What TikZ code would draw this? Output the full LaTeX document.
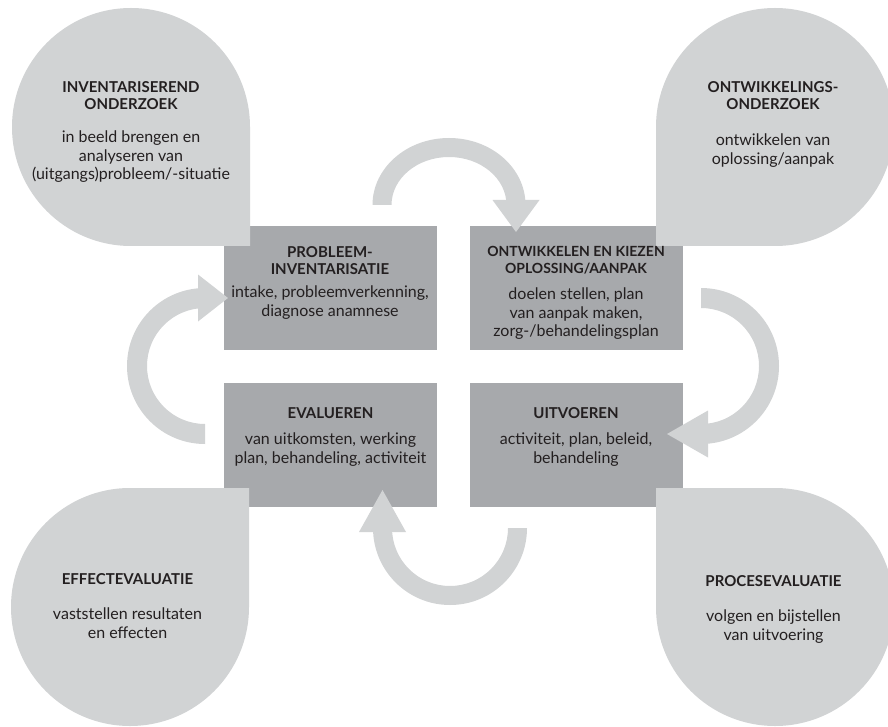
\documentclass[tikz,border=0pt]{standalone}
\usepackage{fontspec}
\setmainfont{Lato}
\usetikzlibrary{calc}
\definecolor{blobgray}{HTML}{D1D3D4}
\definecolor{boxgray}{HTML}{A7A9AC}
\definecolor{ink}{HTML}{231F20}
\begin{document}
\begin{tikzpicture}[x=1pt,y=1pt,yscale=-1,
  blobfill/.style={fill=blobgray},
  arrowfill/.style={fill=blobgray},
  boxnode/.style={rectangle, fill=boxgray, inner sep=0pt, minimum width=213pt, minimum height=124pt},
  headtxt/.style={font=\fontsize{15}{17}\selectfont\bfseries, text=ink, align=center, anchor=north, inner sep=0pt},
  bodytxt/.style={font=\fontsize{16}{18.3}\selectfont, text=ink, align=center, anchor=north, inner sep=0pt}]
\useasboundingbox (0,0) rectangle (888,727);
\clip (0,0) rectangle (888,727);
\fill[white] (0,0) rectangle (888,727);

% boxes
\node[boxnode] (b1) at (330,288) {};
\node[boxnode] (b2) at (576,288) {};
\node[boxnode] (b3) at (330.5,445) {};
\node[boxnode] (b4) at (576,445) {};

% arrows
\coordinate (ctop) at (449,205);
\fill[arrowfill] ($(ctop)+(-76.5,0)$) arc[start angle=180,end angle=360,x radius=76.5pt,y radius=67pt]
  -- ($(ctop)+(57.5,0)$) arc[start angle=360,end angle=180,x radius=57.5pt,y radius=48pt] -- cycle;
\fill[arrowfill] (492.5,200) -- (539.5,200) -- (516,232) -- cycle;

\coordinate (cright) at (701,366);
\fill[arrowfill] ($(cright)+(0,-78)$) arc[start angle=-90,end angle=90,radius=78pt]
  -- ($(cright)+(0,58)$) arc[start angle=90,end angle=-90,radius=58pt] -- cycle;
\fill[arrowfill] (708,410.5) -- (708,457.5) -- (667,434) -- cycle;

\coordinate (cbot) at (450,528);
\fill[arrowfill] ($(cbot)+(77,0)$) arc[start angle=0,end angle=180,radius=77pt]
  -- ($(cbot)+(-58,0)$) arc[start angle=180,end angle=0,radius=58pt] -- cycle;
\fill[arrowfill] (359,532) -- (406,532) -- (382.5,490) -- cycle;

\coordinate (cleft) at (205,366);
\fill[arrowfill] ($(cleft)+(0,78)$) arc[start angle=90,end angle=270,radius=78pt]
  -- ($(cleft)+(0,-58)$) arc[start angle=270,end angle=90,radius=58pt] -- cycle;
\fill[arrowfill] (198,274.5) -- (198,321.5) -- (228,298) -- cycle;

% blobs
\fill[blobfill] (250,246) -- (250,127) arc[start angle=0,end angle=-270,radius=119pt] -- cycle;
\fill[blobfill] (656,246) -- (656,127) arc[start angle=180,end angle=450,radius=119pt] -- cycle;
\fill[blobfill] (249,488) -- (130,488) arc[start angle=270,end angle=0,radius=119pt] -- cycle;
\fill[blobfill] (656,488) -- (775,488) arc[start angle=-90,end angle=180,radius=119pt] -- cycle;

% blob texts
\node[headtxt] (h1) at (131,81.5) {INVENTARISEREND\\ONDERZOEK};
\node[bodytxt] (t1) at (131,131) {in beeld brengen en\\analyseren van\\(uitgangs)probleem/-situatie};
\node[headtxt] (h2) at (773,81.5) {ONTWIKKELINGS-\\ONDERZOEK};
\node[bodytxt] (t2) at (773,134) {ontwikkelen van\\oplossing/aanpak};
\node[headtxt] (h3) at (127.5,573.5) {EFFECTEVALUATIE};
\node[bodytxt] (t3) at (127.5,608) {vaststellen resultaten\\en effecten};
\node[headtxt] (h4) at (773.5,575.5) {PROCESEVALUATIE};
\node[bodytxt] (t4) at (773.5,610) {volgen en bijstellen\\van uitvoering};

% box texts
\node[headtxt] (bh1) at (330,246.5) {PROBLEEM-\\INVENTARISATIE};
\node[bodytxt] (bt1) at (330,286) {intake, probleemverkenning,\\diagnose anamnese};
\node[headtxt, font=\fontsize{14}{17}\selectfont\bfseries] (bh2) at (576,246.5) {ONTWIKKELEN EN KIEZEN\\OPLOSSING/AANPAK};
\node[bodytxt] (bt2) at (576,288) {doelen stellen, plan\\van aanpak maken,\\zorg-/behandelingsplan};
\node[headtxt] (bh3) at (330.5,407.5) {EVALUEREN};
\node[bodytxt] (bt3) at (330.5,433) {van uitkomsten, werking\\plan, behandeling, activiteit};
\node[headtxt] (bh4) at (576,407.5) {UITVOEREN};
\node[bodytxt] (bt4) at (576,433) {activiteit, plan, beleid,\\behandeling};
\end{tikzpicture}
\end{document}
